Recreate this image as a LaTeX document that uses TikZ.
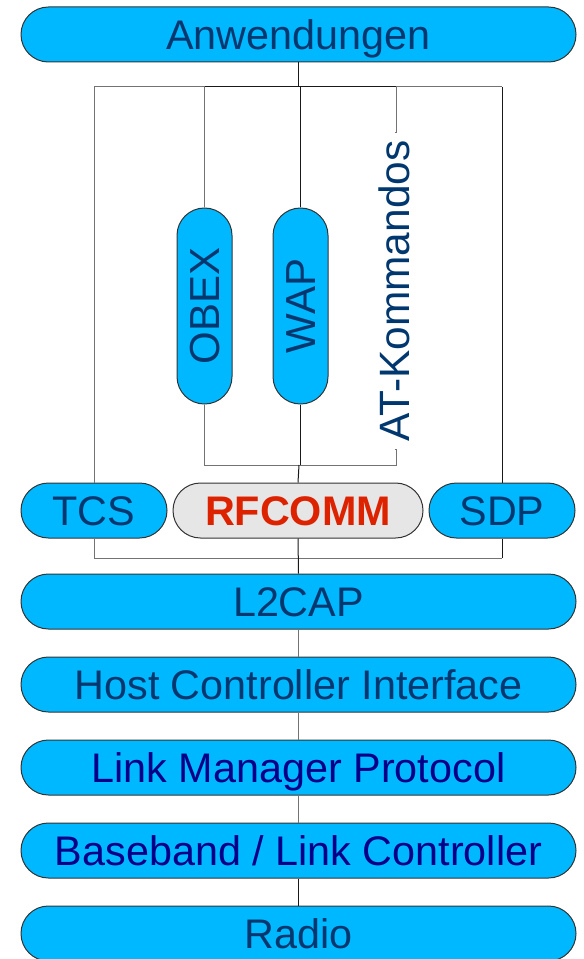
\documentclass[tikz,border=0pt]{standalone}
\usepackage{fontspec}
\setmainfont{Liberation Sans}
\definecolor{pillblue}{HTML}{00B8FF}
\definecolor{txtblue}{HTML}{00376E}
\definecolor{navytxt}{HTML}{000088}
\definecolor{rfgrey}{HTML}{E6E6E6}
\definecolor{rfred}{HTML}{DD2200}
\begin{document}
\begin{tikzpicture}[x=0.75pt,y=-0.75pt,
  pill/.style={draw=black!80, line width=0.75pt, fill=pillblue, rounded corners=20.6pt,
    inner sep=0pt, minimum height=41.25pt, text height=22.2pt, text depth=0pt,
    font=\fontsize{31}{36}\selectfont, text=txtblue},
  layer/.style={pill, minimum width=416.25pt},
  side/.style={pill, minimum width=109.5pt},
  vpill/.style={pill, rotate=90, minimum width=147pt, font=\fontsize{31.5}{36}\selectfont},
  gr/.style={line width=0.75pt, draw=black!55},
  dk/.style={line width=0.75pt, draw=black!90}]
\useasboundingbox (0,0) rectangle (583,959);

% nodes
\node[layer] (app) at (298.5,34.5) {Anwendungen};
\node[side] (tcs) at (94,510.5) {TCS};
\node[pill, minimum width=187.5pt, fill=rfgrey, text=rfred,
      font=\fontsize{31}{36}\selectfont\bfseries] (rf) at (298,510.5) {RFCOMM};
\node[side] (sdp) at (502,510.5) {SDP};
\node[vpill] (obex) at (204.5,306) {OBEX};
\node[vpill] (wap) at (300.5,306) {WAP};
\node[rotate=90, inner sep=0pt, minimum width=237pt, text height=22.5pt, text depth=0pt,
      text=txtblue, font=\fontsize{31.8}{36}\selectfont] (at) at (394.5,291) {AT-Kommandos};
\node[layer] (l2) at (298.5,601.5) {L2CAP};
\node[layer] (hci) at (298.5,684.5) {Host Controller Interface};
\node[layer, text=navytxt] (lmp) at (298.5,767.5) {Link Manager Protocol};
\node[layer, text=navytxt] (bb) at (298.5,850.5) {Baseband / Link Controller};
\node[layer] (radio) at (298.5,933.5) {Radio};

% bus coordinates
\coordinate (tl) at (94,87);
\coordinate (tr) at (502,87);
\coordinate (a1) at (396,87);
\coordinate (a2) at (396,465);
\coordinate (ib) at (299,465);
\coordinate (bl) at (94,558);
\coordinate (br) at (502,558);

% upper frame
\draw[dk] (app.south) -- (app.south |- tl);
\draw[gr] (tcs.north) -- (tl) -- (obex.east |- tl);
\draw[dk] (obex.east |- tl) -- (a1);
\draw[gr] (a1) -- (tr);
\draw[dk] (tr) -- (sdp.north);
\draw[gr] (obex.east) -- (obex.east |- tl);
\draw[dk] (wap.east) -- (wap.east |- tl);
\draw[gr] (a1) |- (at.east);

% inner lower bus
\draw[gr] (obex.west) |- (ib);
\draw[dk] (wap.west) -- (wap.west |- ib);
\draw[gr] (at.west) -| (a2) -- (ib);
\draw[dk] (ib) -- (rf.north);

% lower frame
\draw[gr] (tcs.south) -- (bl) -- (br);
\draw[dk] (br) -- (sdp.south);
\draw[dk] (rf.south) -- (l2.north);

% layer links
\draw[gr] (l2.south) -- (hci.north);
\draw[gr] (hci.south) -- (lmp.north);
\draw[gr] (lmp.south) -- (bb.north);
\draw[dk] (bb.south) -- (radio.north);
\end{tikzpicture}
\end{document}
